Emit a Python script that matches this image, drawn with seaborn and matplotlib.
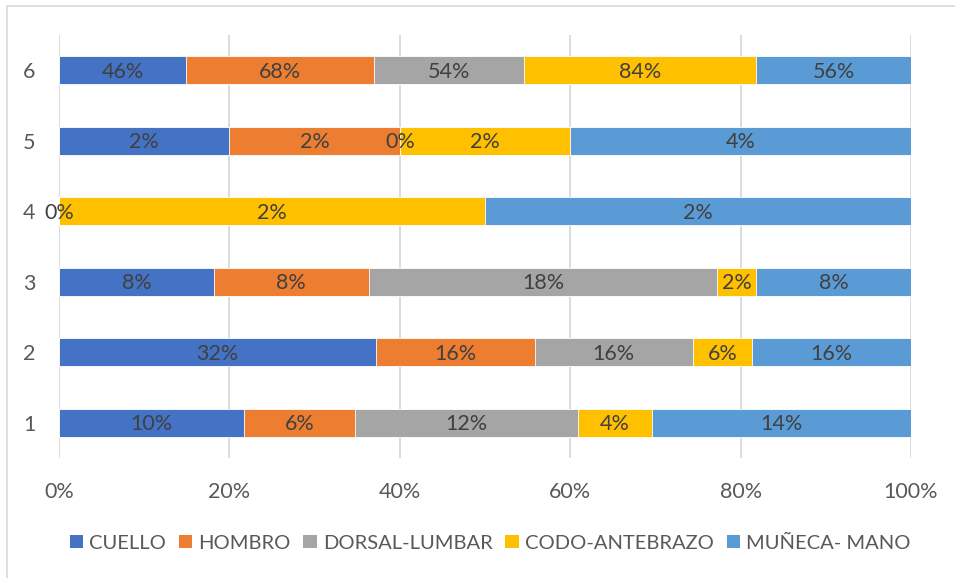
import matplotlib
matplotlib.use("Agg")
import matplotlib.pyplot as plt
import matplotlib.lines as mlines
from matplotlib.patches import Patch
import seaborn as sns
import pandas as pd
import numpy as np

categories = ["1", "2", "3", "4", "5", "6"]
series = ["CUELLO", "HOMBRO", "DORSAL-LUMBAR", "CODO-ANTEBRAZO", "MUÑECA- MANO"]
cuello = [10, 32, 8, 0, 2, 46]
hombro = [6, 16, 8, 0, 2, 68]
dorsal = [12, 16, 18, 0, 0, 54]
codo = [4, 6, 2, 2, 2, 84]
muneca = [14, 16, 8, 2, 4, 56]
colors = ["#4472C4", "#ED7D31", "#A5A5A5", "#FFC000", "#5B9BD5"]
xticks = [0, 20, 40, 60, 80, 100]
xtick_labels = ["0%", "20%", "40%", "60%", "80%", "100%"]

sns.set_theme(style="white")
plt.rcParams["font.family"] = ["Lato", "DejaVu Sans"]
FS = 15.5

vals = np.array([cuello, hombro, dorsal, codo, muneca], dtype=float)  # series x cat
totals = vals.sum(axis=0)
share = vals / totals * 100
cum = np.cumsum(share, axis=0)
start = cum - share

fig = plt.figure(figsize=(9.55, 5.78), dpi=100)
ax = fig.add_axes([59 / 955, 1 - 458 / 578, (911 - 59) / 955, (458 - 35) / 578])

order = categories[::-1]
for i in range(len(series) - 1, -1, -1):
    df = pd.DataFrame({"cat": categories, "cum": cum[i]})
    sns.barplot(data=df, x="cum", y="cat", order=order, orient="h",
                color=colors[i], saturation=1, width=0.4,
                edgecolor="white", linewidth=0.6, ax=ax, zorder=2)

# data labels (values shown as percentages, centered in segments)
ypos = {c: order.index(c) for c in categories}
for j, c in enumerate(categories):
    seen = set()
    for i in range(len(series)):
        xm = round(start[i, j] + share[i, j] / 2, 6)
        if xm in seen:
            continue
        seen.add(xm)
        ax.text(xm, ypos[c] + 0.02, f"{int(vals[i, j])}%", ha="center", va="center",
                color="#404040", fontsize=FS, zorder=5)

ax.set_xlim(0, 100)
ax.set_ylim(len(categories) - 0.5, -0.5)
ax.set_xticks(xticks)
ax.set_xticklabels(xtick_labels)
ax.set_xlabel("")
ax.set_ylabel("")
ax.tick_params(axis="x", length=0, pad=17, labelsize=FS, labelcolor="#595959")
ax.tick_params(axis="y", length=0, pad=17, labelsize=FS, labelcolor="#595959")
ax.grid(axis="x", color="#D9D9D9", linewidth=1.3)
ax.grid(axis="y", visible=False)
ax.set_axisbelow(True)
for s in ax.spines.values():
    s.set_visible(False)

handles = [Patch(facecolor=colors[i], edgecolor="none", label=series[i]) for i in range(len(series))]
fig.legend(handles=handles, loc="center", bbox_to_anchor=(490 / 955, 1 - 543 / 578),
           ncol=5, frameon=False, fontsize=14.5, handlelength=0.65, handleheight=0.65,
           handletextpad=0.3, columnspacing=0.65, labelcolor="#595959")

# chart area border
fig.add_artist(mlines.Line2D([6.5 / 955, 6.5 / 955], [0, 1 - 5.5 / 578], color="#D9D9D9", lw=1.2))
fig.add_artist(mlines.Line2D([6.5 / 955, 1], [1 - 5.5 / 578, 1 - 5.5 / 578], color="#D9D9D9", lw=1.2))

fig.savefig("out.png", dpi=100)
